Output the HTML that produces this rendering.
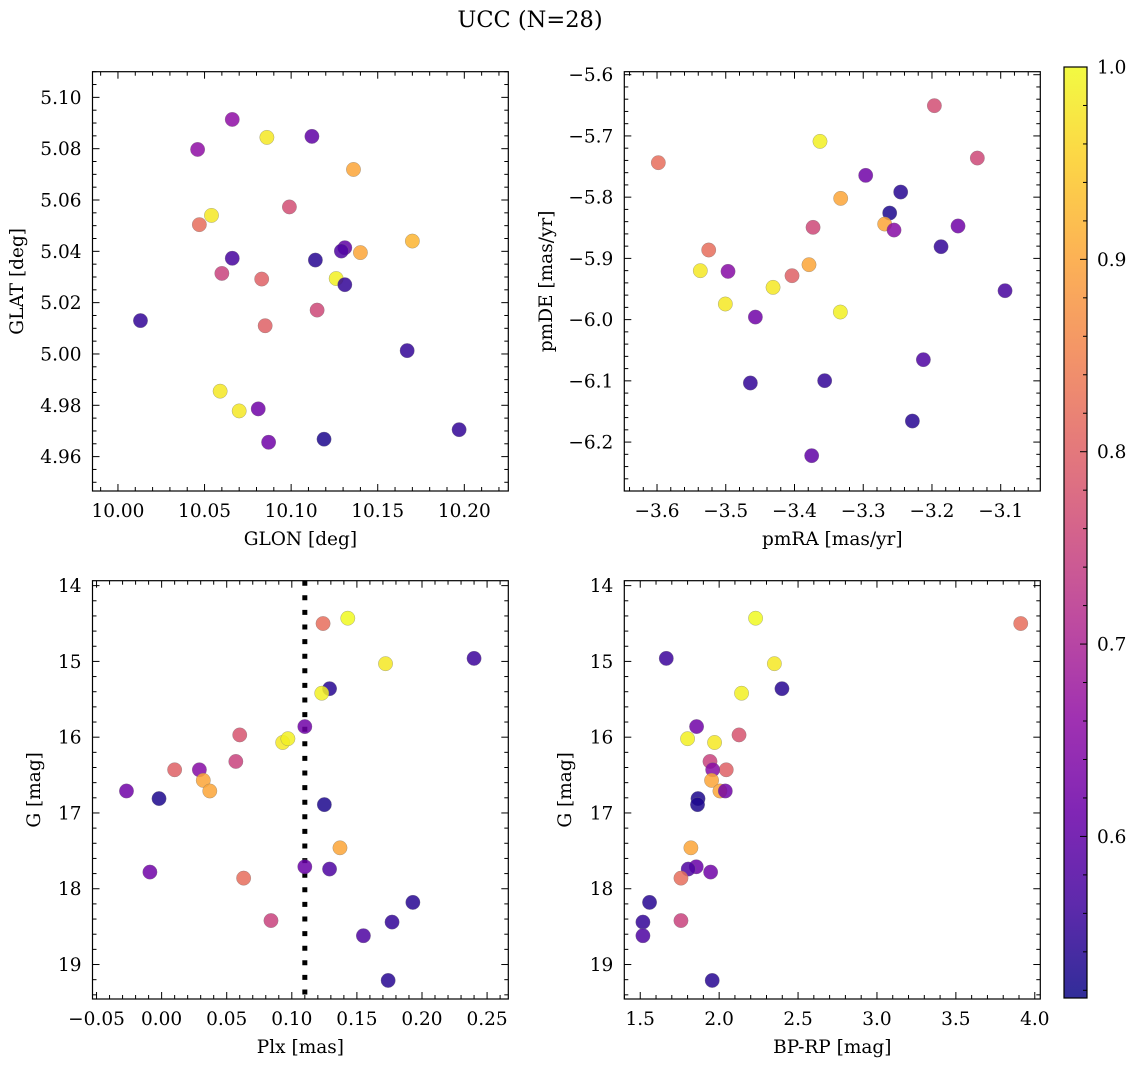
<!DOCTYPE html>
<html><head><meta charset="utf-8">
<style>
html,body{margin:0;padding:0;background:#fff;}
svg{display:block;font-family:"DejaVu Serif","Liberation Serif",serif;}
</style></head>
<body>
<svg id="fig" width="1136" height="1067" viewBox="0 0 1136 1067" xmlns="http://www.w3.org/2000/svg">
<text x="530" y="27" font-size="22.5" text-anchor="middle">UCC (N=28)</text>
</svg>
<script>
// ---- data ----
const glon = [10.066,10.086,10.112,10.046,10.136,10.099,10.054,10.047,10.170,10.131,10.129,10.140,10.066,10.114,10.060,10.083,10.126,10.131,10.115,10.013,10.085,10.167,10.059,10.070,10.081,10.087,10.119,10.197];
const glat = [5.0914,5.0844,5.0848,5.0797,5.0719,5.0573,5.0540,5.0504,5.0440,5.0414,5.0401,5.0395,5.0373,5.0366,5.0314,5.0292,5.0294,5.0270,5.0171,5.0130,5.0110,5.0013,4.9855,4.9778,4.9786,4.9656,4.9668,4.9705];
const probPos = [0.66,0.98,0.60,0.66,0.90,0.77,0.98,0.82,0.92,0.60,0.58,0.90,0.57,0.54,0.75,0.80,0.99,0.55,0.76,0.55,0.80,0.55,0.98,0.98,0.62,0.62,0.53,0.55];

const pmra = [-3.1965,-3.3629,-3.5981,-3.1340,-3.2964,-3.2455,-3.3328,-3.2615,-3.2688,-3.2552,-3.3730,-3.1621,-3.1868,-3.5248,-3.5370,-3.4967,-3.3789,-3.4036,-3.4312,-3.0937,-3.5006,-3.3333,-3.4569,-3.2125,-3.4642,-3.3561,-3.2285,-3.3750];
const pmde = [-5.6506,-5.7089,-5.7437,-5.7361,-5.7644,-5.7916,-5.8020,-5.8259,-5.8439,-5.8537,-5.8493,-5.8471,-5.8809,-5.8863,-5.9201,-5.9212,-5.9103,-5.9283,-5.9473,-5.9528,-5.9745,-5.9876,-5.9958,-6.0654,-6.1035,-6.0997,-6.1656,-6.2222];
const probPm = [0.77,0.99,0.82,0.76,0.62,0.54,0.90,0.53,0.90,0.65,0.76,0.62,0.55,0.82,0.98,0.65,0.90,0.80,0.98,0.57,0.98,0.99,0.62,0.58,0.55,0.55,0.54,0.60];

const plx  = [0.124,0.143,0.172,0.240,0.129,0.123,0.110,0.060,0.093,0.097,0.057,0.010,0.029,0.032,0.037,-0.027,-0.002,0.125,0.137,0.110,0.129,-0.009,0.063,0.084,0.193,0.177,0.155,0.174];
const gmag = [14.50,14.43,15.03,14.96,15.36,15.42,15.86,15.97,16.07,16.02,16.32,16.43,16.43,16.57,16.71,16.71,16.81,16.89,17.46,17.71,17.74,17.78,17.86,18.42,18.18,18.44,18.62,19.21];
const bprp = [3.911,2.231,2.350,1.665,2.398,2.142,1.857,2.126,1.971,1.800,1.942,2.045,1.959,1.952,2.005,2.039,1.866,1.863,1.821,1.855,1.804,1.946,1.758,1.758,1.559,1.517,1.517,1.956];
const probPh = [0.82,1.00,0.98,0.56,0.54,0.99,0.62,0.78,0.98,0.99,0.75,0.80,0.65,0.90,0.90,0.62,0.53,0.53,0.90,0.61,0.58,0.62,0.82,0.75,0.54,0.55,0.58,0.54];

const plxLine = 0.11;
const cbTicks = [0.6,0.7,0.8,0.9,1.0];
const cbMin = 0.516, cbMax = 1.0;

// ---- helpers ----
const NS = "http://www.w3.org/2000/svg";
const svg = document.getElementById('fig');
const FS = 18.5;
function mk(tag, attrs, parent){ const e=document.createElementNS(NS,tag); for(const k in attrs) e.setAttribute(k,attrs[k]); (parent||svg).appendChild(e); return e; }
const plasma = ["#0d0887","#41049d","#6a00a8","#8f0da4","#b12a90","#cc4778","#e16462","#f2844b","#fca636","#fcce25","#f0f921"];
function hex(h){return [parseInt(h.substr(1,2),16),parseInt(h.substr(3,2),16),parseInt(h.substr(5,2),16)];}
function cmap(v){
  let t=(v-cbMin)/(cbMax-cbMin); t=Math.max(0,Math.min(1,t));
  const p=t*10, i=Math.min(9,Math.floor(p)), f=p-i;
  const a=hex(plasma[i]), b=hex(plasma[i+1]);
  return `rgb(${Math.round(a[0]+(b[0]-a[0])*f)},${Math.round(a[1]+(b[1]-a[1])*f)},${Math.round(a[2]+(b[2]-a[2])*f)})`;
}
function fmt(v,d){ const s=Math.abs(v).toFixed(d); return (v< -1e-9?"\u2212":"")+s; }

function panel(o){
  const g = mk('g',{});
  
  
  const X = v => o.x0 + (v-o.xmin)/(o.xmax-o.xmin)*(o.x1-o.x0);
  const Y = o.invert ? (v => o.y0 + (v-o.ymin)/(o.ymax-o.ymin)*(o.y1-o.y0))
                     : (v => o.y1 - (v-o.ymin)/(o.ymax-o.ymin)*(o.y1-o.y0));
  const clipId = o.name+'-clip';
  const cp = mk('clipPath',{id:clipId},g); mk('rect',{x:o.x0,y:o.y0,width:o.x1-o.x0,height:o.y1-o.y0},cp);
  const pts = mk('g',{'clip-path':`url(#${clipId})`},g);
  if(o.vline!==undefined){
    const l = mk('line',{x1:X(o.vline),x2:X(o.vline),y1:o.y0,y2:o.y1,stroke:'#000','stroke-width':5,'stroke-dasharray':'5,9.6'},pts);
    
    
  }
  for(let i=0;i<o.xs.length;i++){
    const c = mk('circle',{cx:X(o.xs[i]),cy:Y(o.ys[i]),r:7.2,fill:cmap(o.cs[i]),'fill-opacity':0.85,stroke:'#777','stroke-opacity':0.6,'stroke-width':0.5},pts);
    
    
  }
  const tk = mk('g',{stroke:'#000','stroke-width':1},g);
  const eps=1e-9;
  for(let v=Math.ceil(o.xmin/o.xminor-eps)*o.xminor; v<=o.xmax+eps; v+=o.xminor){
    const isMaj = Math.abs(v/o.xmajor-Math.round(v/o.xmajor))<1e-6;
    const L = isMaj?7:4, x=X(v);
    mk('line',{x1:x,x2:x,y1:o.y1,y2:o.y1-L},tk); mk('line',{x1:x,x2:x,y1:o.y0,y2:o.y0+L},tk);
    if(isMaj){
      const t = mk('text',{x:x,y:o.y1+26,'font-size':FS,'text-anchor':'middle',stroke:'none',fill:'#000'},g);
      t.textContent = fmt(Math.round(v/o.xmajor)*o.xmajor,o.xdec);
      
      
    }
  }
  for(let v=Math.ceil(o.ymin/o.yminor-eps)*o.yminor; v<=o.ymax+eps; v+=o.yminor){
    const isMaj = Math.abs(v/o.ymajor-Math.round(v/o.ymajor))<1e-6;
    const L = isMaj?7:4, y=Y(v);
    mk('line',{x1:o.x0,x2:o.x0+L,y1:y,y2:y},tk); mk('line',{x1:o.x1,x2:o.x1-L,y1:y,y2:y},tk);
    if(isMaj){
      const t = mk('text',{x:o.x0-11,y:y+6.5,'font-size':FS,'text-anchor':'end',stroke:'none',fill:'#000'},g);
      t.textContent = fmt(Math.round(v/o.ymajor)*o.ymajor,o.ydec);
      
      
    }
  }
  const fr = mk('rect',{x:o.x0,y:o.y0,width:o.x1-o.x0,height:o.y1-o.y0,fill:'none',stroke:'#000','stroke-width':1.2},g);
  
  
  const xl = mk('text',{x:(o.x0+o.x1)/2,y:o.y1+54,'font-size':FS,'text-anchor':'middle'},g);
  xl.textContent=o.xlabel;
  
  
  const cy=(o.y0+o.y1)/2, cx=o.ylx;
  const yl = mk('text',{x:cx,y:cy,'font-size':FS,'text-anchor':'middle',transform:`rotate(-90 ${cx} ${cy})`},g);
  yl.textContent=o.ylabel;
  
  
}

panel({name:'panel-glon-glat',x0:92.5,x1:508.3,y0:71.7,y1:491,xmin:9.9853,xmax:10.2254,ymin:4.9466,ymax:5.1100,
  xmajor:0.05,xminor:0.01,xdec:2,ymajor:0.02,yminor:0.005,ydec:2,xs:glon,ys:glat,cs:probPos,xlabel:'GLON [deg]',ylabel:'GLAT [deg]',ylx:23});
panel({name:'panel-pm',x0:624.3,x1:1040.3,y0:71.7,y1:491,xmin:-3.6476,xmax:-3.0424,ymin:-6.2799,ymax:-5.5951,
  xmajor:0.1,xminor:0.02,xdec:1,ymajor:0.1,yminor:0.02,ydec:1,xs:pmra,ys:pmde,cs:probPm,xlabel:'pmRA [mas/yr]',ylabel:'pmDE [mas/yr]',ylx:552});
panel({name:'panel-plx-g',x0:92.5,x1:508.3,y0:580.7,y1:999,xmin:-0.0531,xmax:0.2663,ymin:13.935,ymax:19.455,invert:true,
  xmajor:0.05,xminor:0.01,xdec:2,ymajor:1,yminor:0.2,ydec:0,xs:plx,ys:gmag,cs:probPh,vline:plxLine,xlabel:'Plx [mas]',ylabel:'G [mag]',ylx:40});
panel({name:'panel-cmd',x0:624.3,x1:1040.3,y0:580.7,y1:999,xmin:1.399,xmax:4.035,ymin:13.935,ymax:19.455,invert:true,
  xmajor:0.5,xminor:0.1,xdec:1,ymajor:1,yminor:0.2,ydec:0,xs:bprp,ys:gmag,cs:probPh,xlabel:'BP-RP [mag]',ylabel:'G [mag]',ylx:571});

// colorbar
const cb = mk('g',{});


const cbx0=1064, cbx1=1087, cby0=67, cby1=998;
const CY = v => cby1 - (v-cbMin)/(cbMax-cbMin)*(cby1-cby0);
const defs = mk('defs',{},cb);
const grad = mk('linearGradient',{id:'cbgrad',x1:0,y1:1,x2:0,y2:0},defs);
for(let k=0;k<=20;k++){ const v=cbMin+(cbMax-cbMin)*k/20; mk('stop',{offset:k/20,'stop-color':cmap(v),'stop-opacity':0.85},grad); }
mk('rect',{x:cbx0,y:cby0,width:cbx1-cbx0,height:cby1-cby0,fill:'url(#cbgrad)'},cb);
for(let v=0.52; v<=1.0+1e-9; v+=0.02){
  const maj = Math.abs(v*10-Math.round(v*10))<1e-6;
  const y=CY(v);
  mk('line',{x1:cbx1,x2:cbx1-(maj?7:4),y1:y,y2:y,stroke:'#000','stroke-width':1},cb);
}
for(const v of cbTicks){
  const t = mk('text',{x:cbx1+10,y:CY(v)+6.5,'font-size':FS},cb);
  t.textContent=v.toFixed(1);
  
  
}
mk('rect',{x:cbx0,y:cby0,width:cbx1-cbx0,height:cby1-cby0,fill:'none',stroke:'#000','stroke-width':1.2},cb);
</script>
</body></html>
